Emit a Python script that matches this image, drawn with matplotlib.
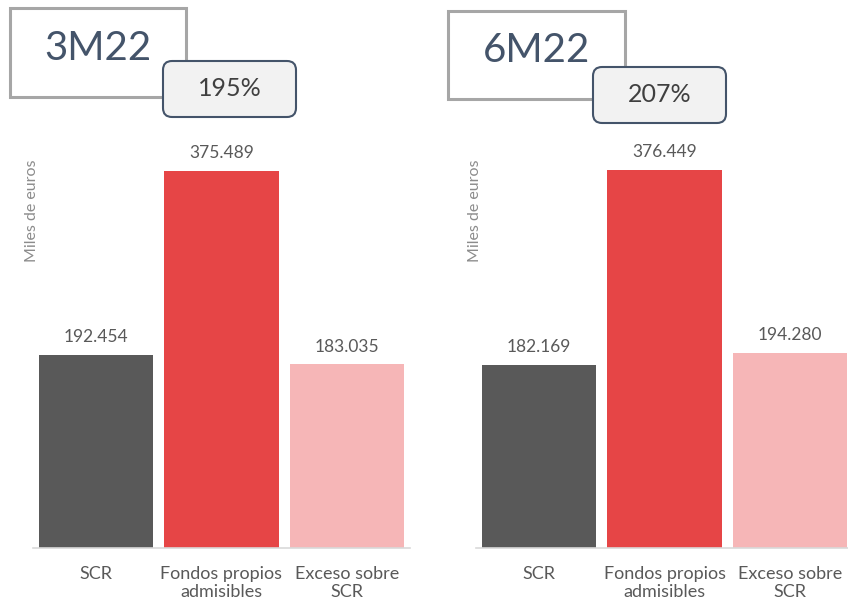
import matplotlib
matplotlib.use('Agg')
import matplotlib.pyplot as plt
from matplotlib.patches import Rectangle, FancyBboxPatch
from matplotlib.transforms import IdentityTransform

plt.rcParams['font.family'] = ['Lato', 'DejaVu Sans']

# ---- data ----
categories = ['SCR', 'Fondos propios\nadmisibles', 'Exceso sobre\nSCR']
periods = ['3M22', '6M22']
ratios = ['195%', '207%']
values_3m22 = [192.454, 375.489, 183.035]
values_6m22 = [182.169, 376.449, 194.280]
all_values = [values_3m22, values_6m22]

bar_colors = ['#595959', '#e64546', '#f6b6b7']
text_grey = '#595959'
slate = '#44546a'

W, H = 848, 605
fig = plt.figure(figsize=(W / 100, H / 100), dpi=100)


def px(x, y_top):
    # pixel coords measured from top-left -> display coords
    return x, H - y_top


# axes placed in pixels: left edge, baseline, width, height
axes_left = [33, 476]
baseline = 548
ax_w, ax_h = 377, 418

for i, vals in enumerate(all_values):
    ax = fig.add_axes([axes_left[i] / W, (H - baseline) / H, ax_w / W, ax_h / H])
    xs = range(len(categories))
    bars = ax.bar(xs, vals, width=0.91, color=bar_colors)
    ax.set_xlim(-0.5, 2.5)
    ax.set_ylim(0, ax_h / 1.004)
    for b, v in zip(bars, vals):
        ax.annotate(f'{v:.3f}', (b.get_x() + b.get_width() / 2, v),
                    xytext=(0, 7), textcoords='offset points',
                    ha='center', va='bottom', fontsize=12.5, color=text_grey)
    ax.set_xticks(list(xs))
    ax.set_xticklabels(categories, fontsize=13, color=text_grey, linespacing=1.15)
    ax.tick_params(axis='x', length=0, pad=13)
    ax.set_yticks([])
    for s in ['top', 'right', 'left']:
        ax.spines[s].set_visible(False)
    ax.spines['bottom'].set_color('#d9d9d9')
    ax.spines['bottom'].set_linewidth(1.2)
    ax.patch.set_alpha(0)

    # y label
    fig.text((axes_left[i] - 1) / W, (H - 211) / H, 'Miles de euros', rotation=90,
             ha='center', va='center', fontsize=11.5, color='#8c8c8c')

# period boxes and ratio boxes
title_boxes = [(10, 8, 176, 89), (448, 11, 177, 88)]
ratio_boxes = [(163, 61, 133, 56), (593, 67, 133, 56)]
for i in range(2):
    x, y, w, h = title_boxes[i]
    fig.patches.append(Rectangle(px(x, y + h), w, h, transform=IdentityTransform(),
                                 facecolor='white', edgecolor='#a6a6a6', linewidth=2.2))
    fig.text((x + w / 2) / W, (H - (y + h / 2 - 4)) / H, periods[i],
             ha='center', va='center', fontsize=29, color=slate)
    x, y, w, h = ratio_boxes[i]
    fig.patches.append(FancyBboxPatch(px(x, y + h), w, h, transform=IdentityTransform(),
                                      boxstyle='round,pad=0,rounding_size=9',
                                      facecolor='#f2f2f2', edgecolor=slate, linewidth=1.5))
    fig.text((x + w / 2) / W, (H - (y + h / 2)) / H, ratios[i],
             ha='center', va='center', fontsize=18, color='#404040')

fig.savefig('out.png', dpi=100)
